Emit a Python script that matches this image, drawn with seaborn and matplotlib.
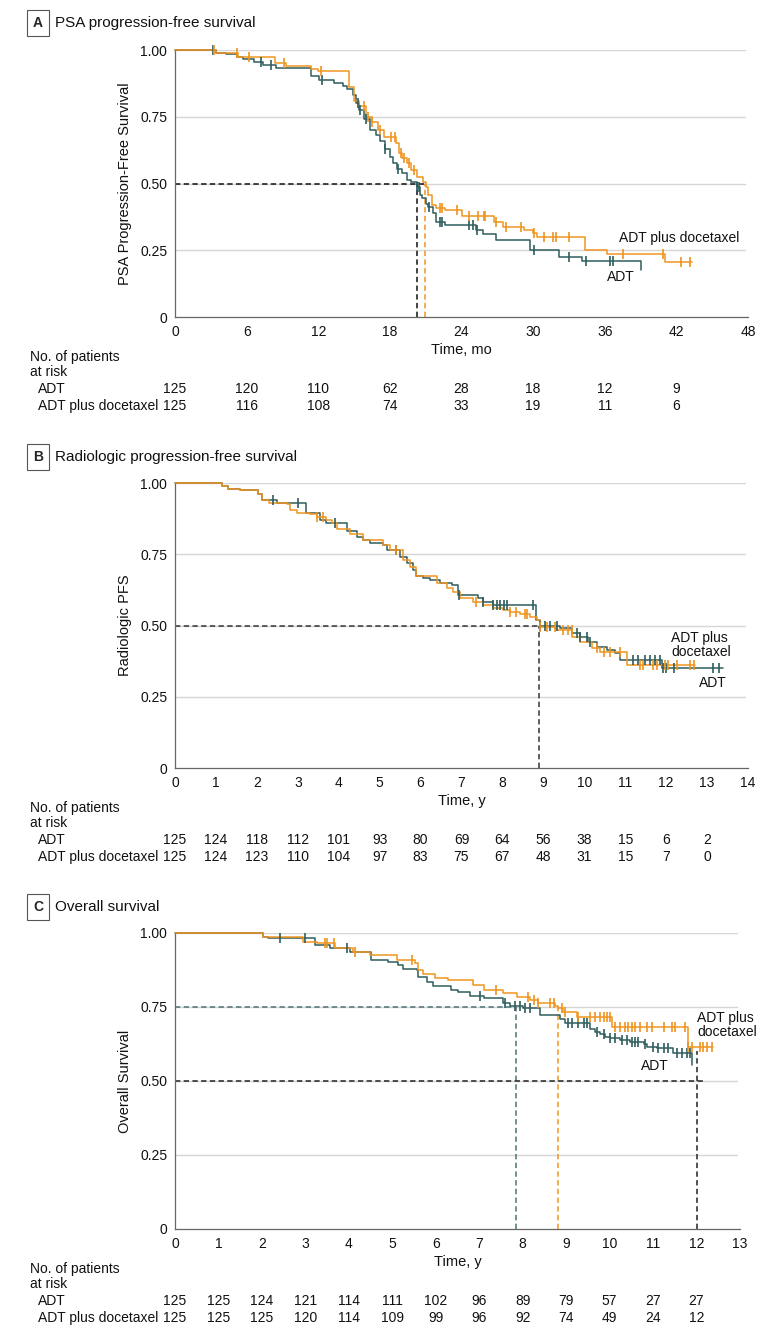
import numpy as np
import matplotlib
matplotlib.use("Agg")
import matplotlib.pyplot as plt
import seaborn as sns
from matplotlib.transforms import blended_transform_factory

sns.set_theme(style="white")
plt.rcParams["font.family"] = ["Liberation Sans", "DejaVu Sans"]

TEAL = "#2f5d5e"
ORANGE = "#f0941f"
W, H = 780, 1335

# ---------- A: PSA progression-free survival (months) ----------
adt_a_t = [0, 3.4, 4.3, 5.2, 5.7, 6.6, 7.4, 8.5, 11.4, 12.1, 13.3, 14.1, 14.4, 14.9, 15.2, 15.4, 15.8,
           16.3, 16.8, 17.2, 17.6, 18.0, 18.3, 18.6, 19.0, 19.4, 19.8, 20.3, 20.5, 20.7, 21.0, 21.2,
           21.6, 21.9, 22.6, 25.2, 25.8, 26.9, 29.7, 32.2, 34.1, 39.0]
adt_a_s = [1.0, 0.99, 0.985, 0.975, 0.965, 0.955, 0.944, 0.931, 0.903, 0.888, 0.878, 0.865, 0.855,
           0.83, 0.80, 0.775, 0.74, 0.70, 0.68, 0.66, 0.63, 0.60, 0.575, 0.555, 0.538, 0.513, 0.505,
           0.488, 0.457, 0.444, 0.425, 0.413, 0.388, 0.356, 0.344, 0.326, 0.31, 0.29, 0.25, 0.225,
           0.21, 0.176]
adt_a_cens = [3.2, 7.2, 8.0, 12.3, 15.3, 15.5, 16.0, 17.6, 18.7, 20.3, 20.4, 21.3, 22.2, 22.4, 24.6,
              25.0, 25.3, 30.1, 33.0, 34.4, 36.4, 36.7]
doc_a_t = [0, 3.4, 5.3, 8.4, 9.3, 11.4, 12.0, 14.6, 15.0, 15.4, 16.0, 16.5, 17.0, 17.5, 18.5, 18.8,
           19.0, 19.4, 19.8, 20.3, 20.8, 21.0, 21.2, 21.5, 21.9, 22.6, 24.0, 26.7, 27.5, 29.2, 30.0,
           30.3, 34.35, 36.2, 41.05, 43.3]
doc_a_s = [1.0, 0.99, 0.975, 0.95, 0.94, 0.93, 0.92, 0.86, 0.81, 0.79, 0.75, 0.73, 0.70, 0.675, 0.653,
           0.613, 0.594, 0.575, 0.55, 0.525, 0.507, 0.488, 0.457, 0.42, 0.41, 0.40, 0.38, 0.356,
           0.338, 0.326, 0.314, 0.30, 0.25, 0.235, 0.207, 0.207]
doc_a_cens = [3.3, 5.2, 6.2, 9.1, 12.2, 15.8, 16.2, 16.5, 17.2, 18.1, 18.4, 18.9, 19.2, 19.6, 20.0,
              22.2, 22.4, 23.6, 24.6, 25.4, 25.9, 26.0, 26.9, 27.7, 29.0, 30.1, 30.9, 31.7, 31.9,
              33.0, 37.5, 40.85, 42.4, 43.15]
median_a = {"adt": 20.25, "doc": 20.95}
risk_a_times = [0, 6, 12, 18, 24, 30, 36, 42]
risk_a_adt = [125, 120, 110, 62, 28, 18, 12, 9]
risk_a_doc = [125, 116, 108, 74, 33, 19, 11, 6]

# ---------- B: Radiologic progression-free survival (years) ----------
adt_b_t = [0, 1.14, 1.3, 1.59, 2.04, 2.12, 2.48, 3.2, 3.55, 3.7, 4.2, 4.44, 4.6, 4.76, 5.09, 5.17,
           5.5, 5.66, 5.82, 5.9, 6.07, 6.23, 6.47, 6.76, 6.92, 7.41, 7.53, 7.78, 8.82, 8.92, 9.4,
           9.7, 9.9, 10.1, 10.3, 10.55, 10.75, 10.87, 11.89, 13.4]
adt_b_s = [1.0, 0.99, 0.98, 0.975, 0.963, 0.94, 0.93, 0.893, 0.87, 0.858, 0.83, 0.81, 0.80, 0.79,
           0.782, 0.764, 0.74, 0.718, 0.695, 0.675, 0.665, 0.66, 0.648, 0.642, 0.607, 0.595, 0.584,
           0.572, 0.518, 0.498, 0.49, 0.472, 0.461, 0.443, 0.426, 0.414, 0.402, 0.379, 0.35, 0.35]
adt_b_cens = [2.4, 3.0, 3.9, 5.4, 6.95, 7.53, 7.78, 7.86, 7.95, 8.03, 8.1, 8.75, 8.92, 9.04, 9.16,
              9.33, 9.81, 9.9, 10.06, 10.14, 11.2, 11.32, 11.48, 11.6, 11.73, 11.85, 11.93, 12.0,
              12.18, 13.15, 13.3]
doc_b_t = [0, 1.14, 1.3, 1.59, 2.04, 2.12, 2.3, 2.73, 2.81, 2.97, 3.3, 3.46, 3.7, 3.83, 3.95, 4.28,
           4.6, 5.09, 5.25, 5.58, 5.74, 5.9, 6.39, 6.64, 6.8, 6.96, 7.29, 7.53, 7.78, 8.02, 8.18,
           8.43, 8.67, 8.84, 8.92, 9.3, 9.7, 9.9, 10.2, 10.38, 11.04, 12.7]
doc_b_s = [1.0, 0.99, 0.98, 0.975, 0.963, 0.94, 0.93, 0.925, 0.907, 0.895, 0.89, 0.88, 0.87, 0.858,
           0.84, 0.82, 0.80, 0.782, 0.764, 0.73, 0.706, 0.675, 0.648, 0.63, 0.618, 0.595, 0.584,
           0.572, 0.56, 0.555, 0.548, 0.54, 0.53, 0.518, 0.495, 0.484, 0.461, 0.443, 0.42, 0.408,
           0.361, 0.361]
doc_b_cens = [3.46, 3.62, 5.4, 7.35, 8.18, 8.34, 8.55, 8.6, 8.92, 9.08, 9.28, 9.49, 9.61, 9.69, 10.3,
              10.47, 10.63, 10.87, 11.36, 11.44, 11.69, 11.77, 11.97, 12.05, 12.26, 12.59, 12.67]
median_b = 8.9
risk_b_times = list(range(14))
risk_b_adt = [125, 124, 118, 112, 101, 93, 80, 69, 64, 56, 38, 15, 6, 2]
risk_b_doc = [125, 124, 123, 110, 104, 97, 83, 75, 67, 48, 31, 15, 7, 0]

# ---------- C: Overall survival (years) ----------
adt_c_t = [0, 2.03, 2.15, 3.22, 3.56, 4.03, 4.52, 4.91, 5.14, 5.25, 5.56, 5.6, 5.79, 5.94, 6.36,
           6.52, 6.79, 7.1, 7.55, 7.71, 8.01, 8.4, 8.86, 8.97, 9.55, 9.66, 9.78, 9.9, 10.0, 10.24,
           10.47, 10.78, 10.85, 11.08, 11.46, 11.89]
adt_c_s = [1.0, 0.987, 0.982, 0.96, 0.948, 0.937, 0.909, 0.903, 0.891, 0.88, 0.875, 0.852, 0.835,
           0.82, 0.807, 0.801, 0.787, 0.779, 0.765, 0.753, 0.745, 0.723, 0.711, 0.695, 0.677,
           0.666, 0.66, 0.649, 0.644, 0.638, 0.632, 0.625, 0.616, 0.61, 0.593, 0.555]
adt_c_cens = [2.42, 2.99, 3.95, 7.02, 7.6, 7.82, 7.94, 8.05, 8.17, 9.05, 9.13, 9.28, 9.4, 9.47, 9.7,
              9.86, 10.01, 10.12, 10.28, 10.39, 10.51, 10.58, 10.66, 10.81, 11.0, 11.12, 11.24,
              11.35, 11.54, 11.66, 11.77, 11.85]
doc_c_t = [0, 2.03, 2.95, 3.26, 3.68, 4.1, 4.49, 5.1, 5.52, 5.6, 5.71, 5.98, 6.29, 6.86, 7.1, 7.55,
           7.86, 8.17, 8.36, 8.74, 8.82, 8.93, 9.24, 10.05, 11.81, 12.39]
doc_c_s = [1.0, 0.987, 0.97, 0.966, 0.948, 0.937, 0.926, 0.909, 0.9, 0.875, 0.86, 0.847, 0.84,
           0.824, 0.807, 0.796, 0.785, 0.773, 0.763, 0.752, 0.745, 0.734, 0.717, 0.683, 0.616,
           0.616]
doc_c_cens = [3.45, 3.5, 3.65, 4.14, 5.45, 7.38, 8.13, 8.25, 8.36, 8.63, 8.71, 8.9, 8.97, 9.28,
              9.55, 9.66, 9.78, 9.86, 9.94, 10.01, 10.12, 10.24, 10.35, 10.43, 10.51, 10.58, 10.7,
              10.85, 10.97, 11.24, 11.43, 11.51, 11.74, 11.81, 11.89, 12.08, 12.16, 12.24, 12.35]
q75_c = {"adt": 7.85, "doc": 8.82}
median_c = 12.0
median_c_line_end = 12.2
risk_c_times = list(range(13))
risk_c_adt = [125, 125, 124, 121, 114, 111, 102, 96, 89, 79, 57, 27, 27]
risk_c_doc = [125, 125, 125, 120, 114, 109, 99, 96, 92, 74, 49, 24, 12]


def fy(py):
    return 1 - py / H


def step_at(t, s, x):
    idx = np.searchsorted(np.asarray(t), np.asarray(x), side="right") - 1
    return np.asarray(s)[idx]


def draw_km(ax, t, s, cens, color):
    sns.lineplot(x=t, y=s, ax=ax, color=color, lw=1.1, drawstyle="steps-post",
                 estimator=None, sort=False, clip_on=False, zorder=3)
    sns.scatterplot(x=cens, y=step_at(t, s, cens), ax=ax, marker="|", s=42, color=color,
                    linewidth=1.2, clip_on=False, zorder=4)


def panel(fig, left, right, top, bottom, xmax, xstep, ylabel, xlabel):
    ax = fig.add_axes([left / W, 1 - bottom / H, (right - left) / W, (bottom - top) / H])
    ax.set_xlim(0, xmax)
    ax.set_ylim(0, 1)
    ax.set_xticks(np.arange(0, xmax + 1, xstep))
    ax.set_yticks([0, 0.25, 0.5, 0.75, 1.0])
    ax.set_yticklabels(["0", "0.25", "0.50", "0.75", "1.00"])
    for g in [0.25, 0.5, 0.75, 1.0]:
        ax.axhline(g, color="#d6d6d6", lw=1.0, zorder=0, xmax=0.995)
    sns.despine(ax=ax)
    for sp in ["left", "bottom"]:
        ax.spines[sp].set_color("#666666")
        ax.spines[sp].set_linewidth(0.9)
    ax.tick_params(direction="out", length=4, width=0.8, color="#666666",
                   labelsize=10, pad=1.5, labelcolor="#111111")
    ax.set_ylabel(ylabel, fontsize=10.5, labelpad=6, color="#111111")
    ax.set_xlabel(xlabel, fontsize=10.5, labelpad=3, color="#111111")
    return ax


def title(fig, py, letter, text):
    fig.text(38 / W, fy(py), letter, ha="center", va="center", fontsize=10, weight="bold",
             bbox=dict(boxstyle="square,pad=0.4", fc="white", ec="#555555", lw=0.8))
    fig.text(55 / W, fy(py), text, ha="left", va="center", fontsize=11, color="#111111")


def risk_table(fig, ax, axis_py, times, adt, doc):
    trans = blended_transform_factory(ax.transData, fig.transFigure)
    kw = dict(va="center", fontsize=10, color="#111111")
    fig.text(30 / W, fy(axis_py + 40), "No. of patients", **kw)
    fig.text(30 / W, fy(axis_py + 55), "at risk", **kw)
    fig.text(38 / W, fy(axis_py + 72), "ADT", **kw)
    fig.text(38 / W, fy(axis_py + 89), "ADT plus docetaxel", **kw)
    for t, a, d in zip(times, adt, doc):
        ax.text(t, fy(axis_py + 72), str(a), transform=trans, ha="center", **kw)
        ax.text(t, fy(axis_py + 89), str(d), transform=trans, ha="center", **kw)


DASH = (0, (3.5, 2.2))
fig = plt.figure(figsize=(W / 100, H / 100), dpi=100)

# ---- panel A ----
title(fig, 23, "A", "PSA progression-free survival")
axA = panel(fig, 175, 748, 50, 317, 48, 6, "PSA Progression-Free Survival", "Time, mo")
axA.plot([0, median_a["doc"]], [0.5, 0.5], ls=DASH, color="#111111", lw=1.1, zorder=2)
axA.plot([median_a["adt"], median_a["adt"]], [0, 0.5], ls=DASH, color="#111111", lw=1.1, zorder=2)
axA.plot([median_a["doc"], median_a["doc"]], [0, 0.5], ls=DASH, color=ORANGE, lw=1.1, zorder=2)
draw_km(axA, adt_a_t, adt_a_s, adt_a_cens, TEAL)
draw_km(axA, doc_a_t, doc_a_s, doc_a_cens, ORANGE)
axA.text(37.2, 0.296, "ADT plus docetaxel", fontsize=10, va="center", color="#111111")
axA.text(36.2, 0.15, "ADT", fontsize=10, va="center", color="#111111")
risk_table(fig, axA, 317, risk_a_times, risk_a_adt, risk_a_doc)

# ---- panel B ----
title(fig, 457, "B", "Radiologic progression-free survival")
axB = panel(fig, 175, 748, 483, 768, 14, 1, "Radiologic PFS", "Time, y")
axB.plot([0, median_b], [0.5, 0.5], ls=DASH, color="#333333", lw=1.1, zorder=2)
axB.plot([median_b, median_b], [0, 0.5], ls=DASH, color="#333333", lw=1.1, zorder=2)
draw_km(axB, adt_b_t, adt_b_s, adt_b_cens, TEAL)
draw_km(axB, doc_b_t, doc_b_s, doc_b_cens, ORANGE)
axB.text(12.12, 0.43, "ADT plus\ndocetaxel", fontsize=10, va="center", color="#111111",
         linespacing=1.0)
axB.text(12.8, 0.298, "ADT", fontsize=10, va="center", color="#111111")
risk_table(fig, axB, 768, risk_b_times, risk_b_adt, risk_b_doc)

# ---- panel C ----
title(fig, 907, "C", "Overall survival")
axC = panel(fig, 175, 740, 933, 1229, 13, 1, "Overall Survival", "Time, y")
axC.plot([0, q75_c["adt"]], [0.75, 0.75], ls=DASH, color="#4d7373", lw=1.1, zorder=2)
axC.plot([q75_c["adt"], q75_c["adt"]], [0, 0.75], ls=DASH, color="#4d7373", lw=1.1, zorder=2)
axC.plot([q75_c["doc"], q75_c["doc"]], [0, step_at(doc_c_t, doc_c_s, q75_c["doc"])], ls=DASH,
         color=ORANGE, lw=1.1, zorder=2)
axC.plot([0, median_c_line_end], [0.5, 0.5], ls=DASH, color="#222222", lw=1.1, zorder=2)
axC.plot([median_c, median_c], [0, 0.6], ls=DASH, color="#222222", lw=1.1, zorder=2)
draw_km(axC, adt_c_t, adt_c_s, adt_c_cens, TEAL)
draw_km(axC, doc_c_t, doc_c_s, doc_c_cens, ORANGE)
axC.text(12.01, 0.689, "ADT plus\ndocetaxel", fontsize=10, va="center", color="#111111",
         linespacing=1.0)
axC.text(10.72, 0.55, "ADT", fontsize=10, va="center", color="#111111")
risk_table(fig, axC, 1229, risk_c_times, risk_c_adt, risk_c_doc)

fig.savefig("out.png", dpi=100)
